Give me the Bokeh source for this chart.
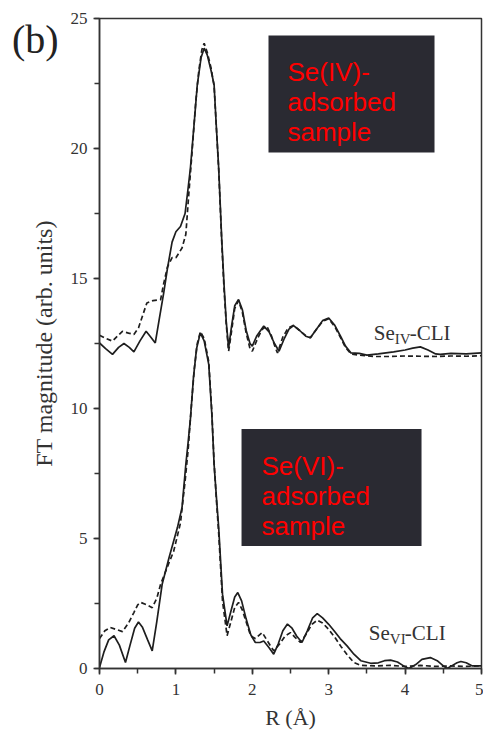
from bokeh.plotting import figure
from bokeh.models import Label, BoxAnnotation, SingleIntervalTicker, Div
from bokeh.layouts import column
from bokeh.embed import file_html
from bokeh.resources import INLINE

# Se(IV)-CLI : experimental (solid) and fit (dashed)
iv_exp_r = [0.00, 0.08, 0.17, 0.25, 0.32, 0.39, 0.45, 0.53, 0.61, 0.67, 0.73, 0.78, 0.84, 0.89, 0.95,
            1.00, 1.06, 1.12, 1.16, 1.19, 1.24, 1.28, 1.33, 1.37, 1.41, 1.46, 1.50, 1.53, 1.56, 1.60,
            1.63, 1.66, 1.69, 1.73, 1.77, 1.82, 1.87, 1.92, 1.97, 2.00, 2.06, 2.15, 2.22, 2.29, 2.35,
            2.42, 2.48, 2.54, 2.62, 2.70, 2.76, 2.84, 2.92, 3.00, 3.08, 3.16, 3.22, 3.29, 3.40, 3.50,
            3.65, 3.85, 4.00, 4.10, 4.20, 4.30, 4.40, 4.46, 4.60, 4.80, 5.00]
iv_exp_ft = [12.52, 12.30, 12.08, 12.35, 12.50, 12.35, 12.18, 12.60, 12.97, 12.75, 12.52, 13.40, 14.44, 15.40, 16.40,
             16.80, 17.00, 17.50, 18.48, 19.25, 21.00, 22.45, 23.50, 23.86, 23.60, 23.00, 22.45, 20.80, 19.25, 16.50,
             14.77, 13.30, 12.33, 13.20, 13.95, 14.19, 13.80, 13.00, 12.50, 12.40, 12.80, 13.17, 12.95, 12.50, 12.20,
             12.70, 13.05, 13.19, 13.00, 12.78, 12.72, 13.05, 13.38, 13.48, 13.20, 12.75, 12.40, 12.14, 12.12, 12.05,
             12.10, 12.18, 12.25, 12.32, 12.37, 12.25, 12.10, 12.08, 12.12, 12.10, 12.14]
iv_fit_r = [0.00, 0.08, 0.17, 0.24, 0.30, 0.38, 0.45, 0.51, 0.62, 0.70, 0.80, 0.84, 0.89, 0.95, 1.00,
            1.08, 1.13, 1.17, 1.21, 1.26, 1.30, 1.34, 1.37, 1.41, 1.46, 1.50, 1.53, 1.56, 1.60, 1.63,
            1.66, 1.69, 1.73, 1.77, 1.82, 1.87, 1.92, 1.97, 2.00, 2.07, 2.13, 2.19, 2.25, 2.30, 2.33,
            2.40, 2.47, 2.54, 2.62, 2.70, 2.76, 2.84, 2.92, 3.00, 3.08, 3.16, 3.22, 3.29, 3.40, 3.60,
            3.80, 4.00, 4.20, 4.40, 4.60, 4.80, 5.00]
iv_fit_ft = [12.82, 12.70, 12.59, 12.80, 12.97, 12.90, 12.85, 13.10, 14.06, 14.15, 14.19, 14.80, 15.45, 15.80, 15.80,
             16.17, 16.70, 18.30, 19.80, 21.80, 23.00, 23.80, 24.05, 23.70, 23.10, 22.40, 20.80, 19.20, 16.40, 14.60,
             13.20, 12.20, 13.00, 13.85, 14.15, 13.70, 12.90, 12.30, 12.20, 12.70, 13.05, 13.17, 12.80, 12.35, 12.14,
             12.75, 13.10, 13.20, 13.00, 12.80, 12.72, 13.05, 13.35, 13.45, 13.15, 12.70, 12.35, 12.10, 12.05, 12.00,
             12.00, 12.02, 12.01, 12.00, 12.02, 12.01, 12.03]

# Se(VI)-CLI : experimental (solid) and fit (dashed)
vi_exp_r = [0.00, 0.06, 0.12, 0.19, 0.26, 0.34, 0.40, 0.46, 0.51, 0.56, 0.63, 0.69, 0.75, 0.82, 0.91,
            1.02, 1.08, 1.13, 1.16, 1.19, 1.23, 1.27, 1.32, 1.37, 1.43, 1.47, 1.50, 1.53, 1.56, 1.61,
            1.67, 1.72, 1.77, 1.81, 1.86, 1.92, 1.98, 2.04, 2.10, 2.15, 2.22, 2.28, 2.34, 2.40, 2.46,
            2.52, 2.58, 2.65, 2.72, 2.79, 2.85, 2.92, 3.00, 3.07, 3.15, 3.24, 3.33, 3.42, 3.55, 3.65,
            3.73, 3.81, 3.90, 3.98, 4.05, 4.14, 4.22, 4.33, 4.42, 4.50, 4.55, 4.62, 4.68, 4.73, 4.80,
            4.88, 5.00]
vi_exp_ft = [0.04, 0.65, 1.10, 1.26, 0.90, 0.23, 0.90, 1.55, 1.79, 1.60, 1.10, 0.68, 1.80, 3.24, 4.26,
             5.42, 6.19, 7.85, 8.70, 9.60, 11.20, 12.30, 12.91, 12.60, 11.70, 9.80, 7.85, 6.60, 5.42, 2.86,
             1.64, 2.20, 2.75, 2.92, 2.60, 1.90, 1.30, 1.00, 1.00, 1.06, 0.80, 0.55, 0.95, 1.45, 1.71,
             1.55, 1.25, 1.00, 1.45, 1.95, 2.11, 1.95, 1.70, 1.45, 1.15, 0.87, 0.55, 0.30, 0.20, 0.22,
             0.30, 0.32, 0.25, 0.10, 0.00, 0.15, 0.35, 0.42, 0.30, 0.10, 0.00, 0.12, 0.22, 0.27, 0.22,
             0.10, 0.10]
vi_fit_r = [0.00, 0.07, 0.14, 0.22, 0.30, 0.38, 0.45, 0.50, 0.54, 0.62, 0.69, 0.75, 0.80, 0.91, 0.97,
            1.06, 1.12, 1.16, 1.20, 1.24, 1.28, 1.32, 1.37, 1.43, 1.47, 1.50, 1.53, 1.56, 1.61, 1.67,
            1.72, 1.77, 1.82, 1.87, 1.93, 1.98, 2.04, 2.13, 2.20, 2.28, 2.36, 2.43, 2.50, 2.56, 2.63,
            2.70, 2.78, 2.85, 2.92, 3.00, 3.08, 3.16, 3.25, 3.33, 3.42, 3.60, 3.80, 4.00, 4.20, 4.40,
            4.60, 4.80, 5.00]
vi_fit_ft = [1.15, 1.45, 1.58, 1.50, 1.42, 1.75, 2.15, 2.45, 2.54, 2.45, 2.34, 2.70, 3.24, 4.07, 4.50,
             5.60, 7.20, 8.40, 10.00, 11.50, 12.50, 12.95, 12.70, 11.80, 9.90, 7.90, 6.50, 5.20, 2.60, 1.26,
             1.80, 2.35, 2.54, 2.25, 1.70, 1.25, 1.15, 1.38, 1.05, 0.68, 0.95, 1.25, 1.38, 1.20, 1.00,
             1.30, 1.70, 1.86, 1.75, 1.50, 1.20, 0.85, 0.50, 0.23, 0.12, 0.10, 0.12, 0.08, 0.12, 0.08,
             0.10, 0.08, 0.10]

SERIF = "Liberation Serif"
SANS = "Liberation Sans"
INK = "#1e1e1e"

p = figure(width=483, height=737, x_range=(0, 5), y_range=(0, 25),
           output_backend="svg", toolbar_location=None,
           min_border_left=99, min_border_right=2, min_border_top=18, min_border_bottom=69)
p.background_fill_color = "white"
p.border_fill_color = "white"
p.outline_line_color = "#333333"
p.outline_line_width = 1.5
p.xgrid.visible = False
p.ygrid.visible = False

p.xaxis.ticker = SingleIntervalTicker(interval=1, num_minor_ticks=2)
p.yaxis.ticker = SingleIntervalTicker(interval=5, num_minor_ticks=2)
for ax in (p.xaxis[0], p.yaxis[0]):
    ax.axis_line_color = "#333333"
    ax.axis_line_width = 1.5
    ax.major_tick_line_color = "#333333"
    ax.minor_tick_line_color = "#333333"
    ax.major_tick_line_width = 1.5
    ax.minor_tick_line_width = 1.5
    ax.major_tick_in = 0
    ax.major_tick_out = 6
    ax.minor_tick_in = 0
    ax.minor_tick_out = 5
    ax.major_label_text_font = SERIF
    ax.major_label_text_font_size = "17px"
    ax.major_label_text_color = "#333333"
    ax.axis_label_text_font = SERIF
    ax.axis_label_text_font_style = "normal"
    ax.axis_label_text_color = "#333333"

p.xaxis.axis_label = "R (Å)"
p.xaxis.axis_label_text_font_size = "22px"
p.xaxis.major_label_standoff = 9
p.xaxis.axis_label_standoff = 7
p.yaxis.axis_label = "FT magnitude (arb. units)"
p.yaxis.axis_label_text_font_size = "24px"
p.yaxis.major_label_standoff = 6
p.yaxis.axis_label_standoff = 11

p.line(iv_exp_r, iv_exp_ft, line_color=INK, line_width=1.7)
p.line(iv_fit_r, iv_fit_ft, line_color=INK, line_width=1.7, line_dash="5 3")
p.line(vi_exp_r, vi_exp_ft, line_color=INK, line_width=1.7)
p.line(vi_fit_r, vi_fit_ft, line_color=INK, line_width=1.7, line_dash="5 3")

# dark boxes with red labels
BOX = "#2a2a32"
p.add_layout(BoxAnnotation(left=2.212, right=4.385, top=24.35, bottom=19.85,
                           fill_color=BOX, fill_alpha=1, line_color=None))
p.add_layout(BoxAnnotation(left=1.859, right=4.215, top=9.21, bottom=4.71,
                           fill_color=BOX, fill_alpha=1, line_color=None))
for txt, yy in (("Se(IV)-", 22.93), ("adsorbed", 21.78), ("sample", 20.62)):
    p.add_layout(Label(x=2.46, y=yy, text=txt, text_font=SANS, text_font_size="26px",
                       text_color="#ff0000", text_baseline="alphabetic"))
for txt, yy in (("Se(VI)-", 7.79), ("adsorbed", 6.63), ("sample", 5.47)):
    p.add_layout(Label(x=2.12, y=yy, text=txt, text_font=SANS, text_font_size="26px",
                       text_color="#ff0000", text_baseline="alphabetic"))

# curve labels with subscripts
def curve_label(x, y, sub):
    p.add_layout(Label(x=x, y=y, text="Se", text_font=SERIF, text_font_size="21px",
                       text_color="#333333", text_baseline="alphabetic"))
    p.add_layout(Label(x=x, y=y, x_offset=21, y_offset=-6, text=sub, text_font=SERIF,
                       text_font_size="15px", text_color="#333333", text_baseline="alphabetic"))
    p.add_layout(Label(x=x, y=y, x_offset=36, text="-CLI", text_font=SERIF, text_font_size="21px",
                       text_color="#333333", text_baseline="alphabetic"))

curve_label(3.59, 12.91, "IV")
curve_label(3.525, 1.36, "VI")

# panel letter, overlaid in the left margin of the page
panel_letter = Div(text="(b)", styles={
    "position": "absolute", "left": "12px", "top": "16px", "z-index": "10",
    "font-family": "'Liberation Serif', serif", "font-size": "40px",
    "line-height": "normal", "color": "#222222", "margin": "0", "padding": "0",
})

layout = column(p, panel_letter)
open("out.html", "w").write(file_html(layout, INLINE))
